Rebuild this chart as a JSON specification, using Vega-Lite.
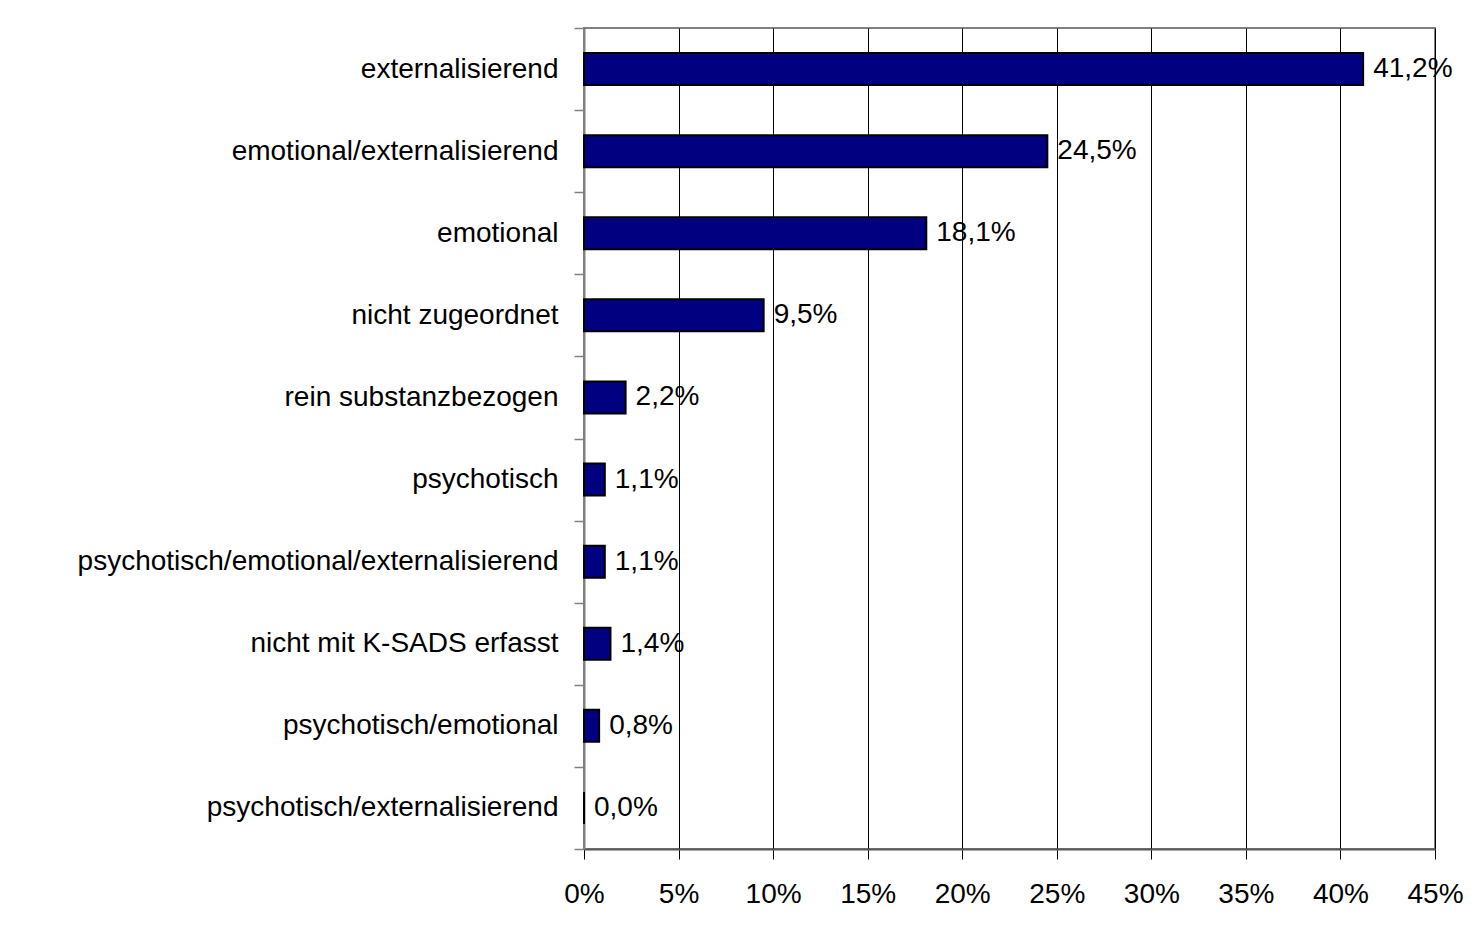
{
  "$schema": "https://vega.github.io/schema/vega-lite/v6.json",
  "width": 851,
  "height": 821,
  "autosize": {"type": "none"},
  "padding": {"left": 584, "top": 28, "right": 40, "bottom": 91},
  "background": "white",
  "config": {
    "locale": {"number": {"decimal": ",", "thousands": ".", "grouping": [3], "currency": ["", " €"]}},
    "view": {"stroke": "#808080", "strokeWidth": 2},
    "font": "Liberation Sans"
  },
  "data": {
    "values": [
      {"kategorie": "externalisierend", "anteil": 0.412},
      {"kategorie": "emotional/externalisierend", "anteil": 0.245},
      {"kategorie": "emotional", "anteil": 0.181},
      {"kategorie": "nicht zugeordnet", "anteil": 0.095},
      {"kategorie": "rein substanzbezogen", "anteil": 0.022},
      {"kategorie": "psychotisch", "anteil": 0.011},
      {"kategorie": "psychotisch/emotional/externalisierend", "anteil": 0.011},
      {"kategorie": "nicht mit K-SADS erfasst", "anteil": 0.014},
      {"kategorie": "psychotisch/emotional", "anteil": 0.008},
      {"kategorie": "psychotisch/externalisierend", "anteil": 0.0}
    ]
  },
  "encoding": {
    "y": {
      "field": "kategorie",
      "type": "nominal",
      "sort": null,
      "scale": {"paddingInner": 0, "paddingOuter": 0},
      "axis": {
        "title": null,
        "grid": false,
        "tickBand": "extent",
        "domainColor": "#808080",
        "domainWidth": 2,
        "tickColor": "#808080",
        "tickWidth": 1.5,
        "tickSize": 10,
        "labelFont": "Liberation Sans",
        "labelFontSize": 28,
        "labelColor": "black",
        "labelPadding": 16,
        "labelLimit": 0
      }
    },
    "x": {
      "field": "anteil",
      "type": "quantitative",
      "scale": {"domain": [0, 0.45], "nice": false},
      "axis": {
        "title": null,
        "values": [0, 0.05, 0.1, 0.15, 0.2, 0.25, 0.3, 0.35, 0.4, 0.45],
        "format": ".0%",
        "grid": true,
        "gridColor": "black",
        "gridWidth": 1,
        "gridOpacity": 1,
        "domainColor": "#595959",
        "domainWidth": 2,
        "tickColor": "black",
        "tickSize": 10,
        "tickWidth": 1,
        "labelFont": "Liberation Sans",
        "labelFontSize": 28,
        "labelColor": "black",
        "labelPadding": 21,
        "labelFlush": false
      }
    }
  },
  "layer": [
    {
      "mark": {"type": "bar", "color": "#000080", "stroke": "black", "strokeWidth": 2, "height": {"band": 0.39}}
    },
    {
      "mark": {"type": "text", "align": "left", "baseline": "middle", "dx": 10, "font": "Liberation Sans", "fontSize": 28, "color": "black"},
      "encoding": {"text": {"field": "anteil", "type": "quantitative", "format": ".1%"}}
    }
  ]
}
